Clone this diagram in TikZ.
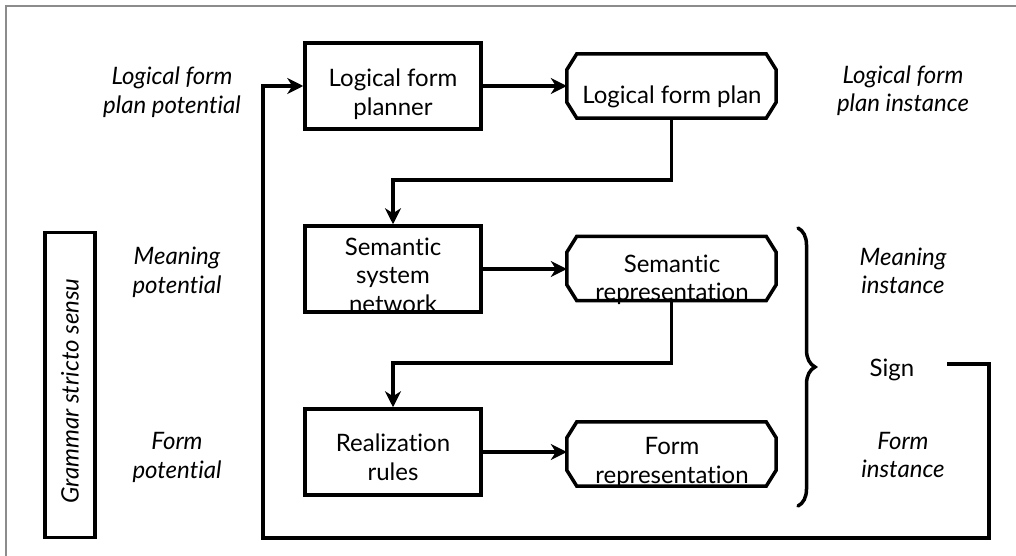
\documentclass[tikz,border=0pt]{standalone}
\usepackage{fontspec}
\setmainfont{Lato}[Ligatures={NoCommon,NoRequired}]
\usetikzlibrary{arrows.meta,decorations.pathreplacing}
\begin{document}
\begin{tikzpicture}[x=1pt,y=-1pt,
  every node/.style={font=\fontsize{24}{28.5}\selectfont, align=center, inner sep=0pt},
  lbl/.style={font=\fontsize{24}{28.5}\selectfont\itshape},
  box/.style={draw, line width=3.5pt, minimum width=176pt, minimum height=86pt},
  oct/.style={minimum width=209pt, minimum height=64pt},
  octline/.style={line width=3.5pt, line join=miter},
  arr/.style={line width=3.3pt, -{Stealth[length=16pt,width=16pt,inset=5pt]}},
  frame/.style={draw=black!45, line width=1.5pt}
]
\useasboundingbox[fill=white] (0,0) rectangle (1016,556);
\draw[frame] (6,556) -- (6,6) -- (1016,6);

% boxes
\node[box] (planner) at (393,86) {};
\node[box] (ssn) at (393,269) {};
\node[box] (rr) at (393,452) {};
\node[oct] (plan) at (671.5,86) {};
\node[oct] (semrep) at (671.5,268.5) {};
\node[oct] (formrep) at (671.5,454) {};
\foreach \n in {plan,semrep,formrep}{
  \draw[octline] ([xshift=10pt]\n.north west) -- ([xshift=-10pt]\n.north east)
    -- ([yshift=-16pt]\n.north east) -- ([yshift=16pt]\n.south east)
    -- ([xshift=-10pt]\n.south east) -- ([xshift=10pt]\n.south west)
    -- ([yshift=16pt]\n.south west) -- ([yshift=-16pt]\n.north west) -- cycle;
}
\node[draw, line width=3.3pt, minimum width=50pt, minimum height=305pt] (gss) at (70,385) {};

% box texts
\node (tplanner) at (393,94) {Logical form\\planner};
\node (tplan) at (672,96.5) {Logical form plan};
\node (tssn) at (393,275) {Semantic\\system\\network};
\node (tsemrep) at (672,280) {Semantic\\representation};
\node (trr) at (393,457.5) {Realization\\rules};
\node (tformrep) at (672,462.5) {Form\\representation};
\node[lbl, rotate=90] (tgss) at (70,391) {Grammar stricto sensu};

% side labels
\node[lbl] (l1) at (172,92) {Logical form\\plan potential};
\node[lbl] (l2) at (177,272.5) {Meaning\\potential};
\node[lbl] (l3) at (177,457.5) {Form\\potential};
\node[lbl] (r1) at (903,90.5) {Logical form\\plan instance};
\node[lbl] (r2) at (903,271) {Meaning\\instance};
\node[lbl] (r3) at (903,455) {Form\\instance};
\node (sign) at (892,369.5) {Sign};

% brace
\coordinate (btop) at (798,228);
\coordinate (bbot) at (798,506);
\draw[line width=3.5pt, line cap=round, decorate, decoration={brace, amplitude=17pt}] (btop) -- (bbot);

% connectors
\draw[arr] (planner.east) -- (plan.west);
\draw[arr] (ssn.east) -- (semrep.west |- ssn.east);
\draw[arr] (rr.east) -- (formrep.west |- rr.east);
\draw[arr] (plan.south) -- (plan.south |- 0,180) -| (ssn.north);
\draw[arr] (semrep.south) -- (semrep.south |- 0,363) -| (rr.north);
\coordinate (signout) at (947,364);
\draw[arr] (signout) -- (989,364) -- (989,538) -- (263,538) |- (planner.west);
\end{tikzpicture}
\end{document}
